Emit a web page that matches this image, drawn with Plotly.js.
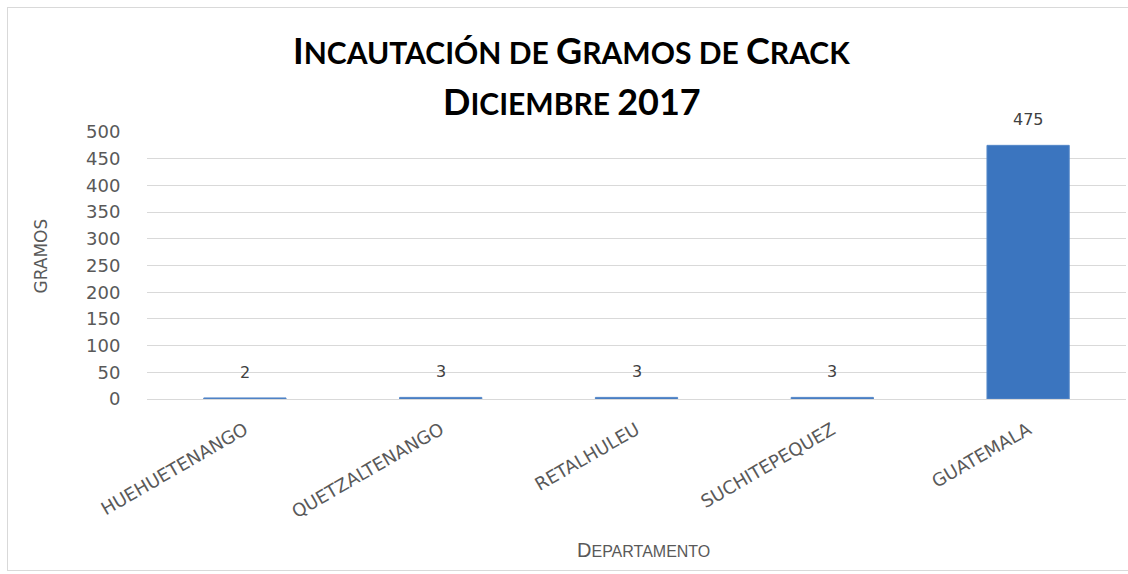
<!DOCTYPE html>
<html>
<head>
<meta charset="utf-8">
<script src="https://cdn.plot.ly/plotly-3.0.1.min.js"></script>
<style>
html,body{margin:0;padding:0;background:#fff;}
#frame{position:absolute;left:7px;top:7px;width:1130px;height:564px;border:1px solid #d9d9d9;box-sizing:border-box;}
#chart{position:absolute;left:0;top:0;width:1128px;height:574px;}
</style>
</head>
<body>
<div id="frame"></div>
<div id="chart"></div>
<script>
const departamentos = ["HUEHUETENANGO", "QUETZALTENANGO", "RETALHULEU", "SUCHITEPEQUEZ", "GUATEMALA"];
const gramos = [2, 3, 3, 3, 475];
const yTicks = [0, 50, 100, 150, 200, 250, 300, 350, 400, 450, 500];
const titleLine1 = "Incautación de Gramos de Crack";
const titleLine2 = "Diciembre 2017";
const xTitle = "Departamento";
const yTitle = "GRAMOS";

// fake small caps: capitals/digits at big size, lowercase uppercased at small size
function smallCaps(str, big, small) {
  let out = '', buf = '', mode = null;
  const flush = () => {
    if (!buf) return;
    const sz = mode === 'big' ? big : small;
    out += '<span style="font-size:' + sz + 'px">' + buf + '</span>';
    buf = '';
  };
  for (const ch of str) {
    const isLower = ch !== ch.toUpperCase();
    const m = isLower ? 'small' : 'big';
    if (ch === ' ') { buf += ' '; continue; }
    if (m !== mode) { flush(); mode = m; }
    buf += isLower ? ch.toUpperCase() : ch;
  }
  flush();
  return out;
}

const trace = {
  type: 'bar',
  x: departamentos,
  y: gramos,
  marker: {color: '#3b75bf', line: {color: '#5688c8', width: 1}},
  hoverinfo: 'x+y'
};

const labelAnns = departamentos.map((d, i) => ({
  x: d, y: gramos[i], xref: 'x', yref: 'y',
  text: String(gramos[i]), showarrow: false,
  yanchor: 'bottom', yshift: 14,
  font: {family: 'DejaVu Sans, sans-serif', size: 16, color: '#404040'}
}));

const layout = {
  width: 1128, height: 574,
  margin: {l: 147, r: 2, t: 132, b: 175},
  paper_bgcolor: 'rgba(0,0,0,0)',
  plot_bgcolor: 'rgba(0,0,0,0)',
  showlegend: false,
  bargap: 0.58,
  xaxis: {
    tickangle: -30,
    ticklabelstandoff: 16,
    tickfont: {family: 'DejaVu Sans, sans-serif', size: 18, color: '#595959'},
    showgrid: false, showline: false, ticks: ''
  },
  yaxis: {
    range: [0, 500],
    tickvals: yTicks,
    ticktext: yTicks.map(String),
    tickfont: {family: 'DejaVu Sans, sans-serif', size: 18, color: '#595959'},
    gridcolor: '#d9d9d9', gridwidth: 1,
    zeroline: true, zerolinecolor: '#d9d9d9', zerolinewidth: 1,
    showline: false, ticks: 'outside', ticklen: 22, tickcolor: 'rgba(0,0,0,0)'
  },
  annotations: labelAnns.concat([
    {xref: 'paper', yref: 'paper', x: 0.434, y: 1, yshift: 82, xanchor: 'center', yanchor: 'middle',
     text: '<b>' + smallCaps(titleLine1, 36, 30) + '</b>', showarrow: false,
     font: {family: 'Lato, sans-serif', size: 36, color: '#000'}},
    {xref: 'paper', yref: 'paper', x: 0.434, y: 1, yshift: 31, xanchor: 'center', yanchor: 'middle',
     text: '<b>' + smallCaps(titleLine2, 36, 30) + '</b>', showarrow: false,
     font: {family: 'Lato, sans-serif', size: 36, color: '#000'}},
    {xref: 'paper', yref: 'paper', x: 0.507, y: 0, yshift: -151, xanchor: 'center', yanchor: 'middle',
     text: smallCaps(xTitle, 20, 16), showarrow: false,
     font: {family: 'Liberation Sans, Arial, sans-serif', size: 20, color: '#595959'}},
    {xref: 'paper', yref: 'paper', x: 0, xshift: -107, y: 0.5, yshift: 9, xanchor: 'center', yanchor: 'middle',
     textangle: -90, text: yTitle, showarrow: false,
     font: {family: 'DejaVu Sans, sans-serif', size: 17, color: '#595959'}}
  ])
};

Plotly.newPlot('chart', [trace], layout, {displayModeBar: false, staticPlot: true});
</script>
</body>
</html>
